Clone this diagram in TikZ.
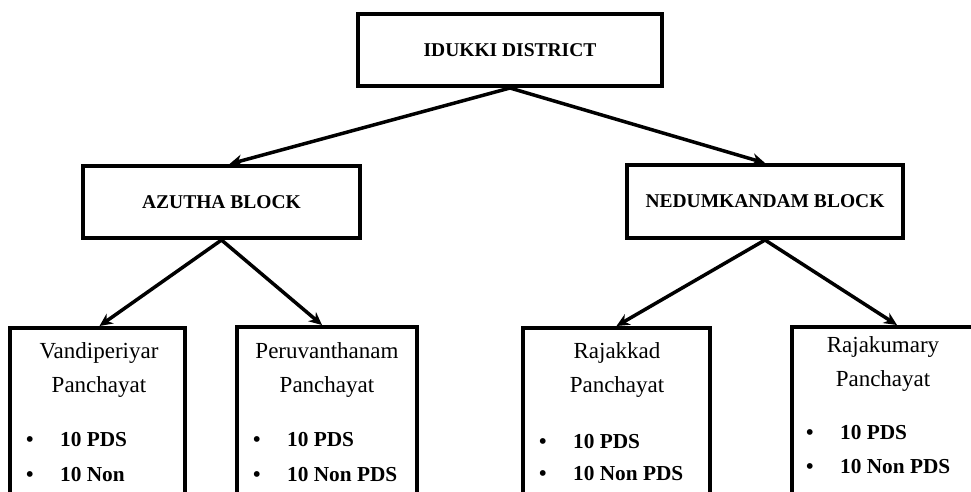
\documentclass[tikz,border=0pt]{standalone}
\usepackage{fontspec}
\setmainfont{Liberation Serif}
\usetikzlibrary{arrows.meta, calc}

\tikzset{
  headbox/.style={draw, line width=4pt, minimum width=#1, minimum height=72pt,
    font=\fontsize{19.5}{23}\selectfont\bfseries},
  headbox/.default=277pt,
  panbox/.style={draw, line width=4pt, minimum width=#1, minimum height=200pt, anchor=north},
  pantext/.style={align=center, font=\fontsize{23}{34}\selectfont},
  item/.style={anchor=west, inner sep=0pt, font=\fontsize{21.3}{25}\selectfont\bfseries},
  link/.style={line width=3.5pt, -{Stealth[length=13pt,width=12pt]}}
}
\newcommand{\bitem}[1]{\makebox[34pt][l]{\textbullet}#1}

\begin{document}
\begin{tikzpicture}[x=1pt, y=-1pt]
        \useasboundingbox (0,0) rectangle (971,491);
        \clip (0,0) rectangle (971,491);

        % district and blocks
        \node[headbox=304pt] (idukki) at (510, 50) {IDUKKI DISTRICT};
        \node[headbox] (azutha) at (221.5, 202) {AZUTHA BLOCK};
        \node[headbox=276pt, minimum height=73pt] (nedum) at (765, 201.5) {NEDUMKANDAM BLOCK};

        % panchayat boxes
        \node[panbox=175pt] (vand) at (97.5, 326) {};
        \node[panbox=180pt] (peru) at (327, 325) {};
        \node[panbox=187pt] (raja) at (616.5, 326) {};
        \node[panbox=210pt] (rkum) at (897, 325) {};

        \node[pantext] (vandname) at (99, 370) {Vandiperiyar\\Panchayat};
        \node[pantext] (peruname) at (327, 370) {Peruvanthanam\\Panchayat};
        \node[pantext] (rajaname) at (617, 370) {Rajakkad\\Panchayat};
        \node[pantext] (rkumname) at (883, 364) {Rajakumary\\Panchayat};

        \node[item] (vand1) at (26, 440) {\bitem{10 PDS}};
        \node[item] (vand2) at (26, 475) {\bitem{10 Non}};
        \node[item] (peru1) at (253, 440) {\bitem{10 PDS}};
        \node[item] (peru2) at (253, 475) {\bitem{10 Non PDS}};
        \node[item] (raja1) at (539, 442) {\bitem{10 PDS}};
        \node[item] (raja2) at (539, 474) {\bitem{10 Non PDS}};
        \node[item] (rkum1) at (806, 433) {\bitem{10 PDS}};
        \node[item] (rkum2) at (806, 467) {\bitem{10 Non PDS}};

        % arrows
        \draw[link] (idukki.south) -- ($(azutha.north)+(8,0)$);
        \draw[link] (idukki.south) -- (nedum.north);
        \draw[link] (azutha.south) -- ($(vand.north)+(2,0)$);
        \draw[link] (azutha.south) -- ($(peru.north)+(-5,0)$);
        \draw[link] (nedum.south) -- (raja.north);
        \draw[link] (nedum.south) -- (rkum.north);
\end{tikzpicture}
\end{document}
